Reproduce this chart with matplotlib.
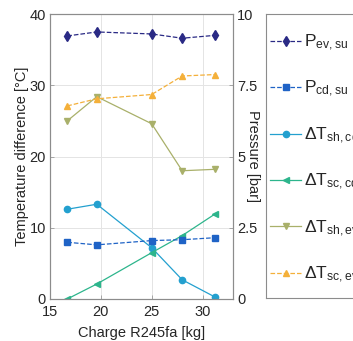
import matplotlib.pyplot as plt
from matplotlib.lines import Line2D

plt.rcParams['font.family'] = ['Liberation Sans', 'DejaVu Sans']
plt.rcParams['mathtext.default'] = 'regular'

# charge of R245fa [kg]
charge = [16.7, 19.6, 25.0, 28.0, 31.2]

# pressures [bar] (right axis)
p_ev_su = [9.23, 9.37, 9.30, 9.15, 9.25]
p_cd_su = [1.99, 1.90, 2.05, 2.08, 2.15]

# temperature differences [degC] (left axis)
dt_sh_cd = [12.6, 13.3, 7.2, 2.7, 0.3]
dt_sc_cd = [0.0, 2.1, 6.5, 8.9, 11.9]
dt_sh_ev = [25.0, 28.4, 24.6, 18.0, 18.2]
dt_sc_ev = [27.1, 28.1, 28.7, 31.3, 31.5]

labels = [r'P$_{ev,su}$', r'P$_{cd,su}$', r'$\Delta$T$_{sh,cd,su}$',
          r'$\Delta$T$_{sc,cd,ex}$', r'$\Delta$T$_{sh,ev,ex}$', r'$\Delta$T$_{sc,ev,su}$']

c_pev = '#2a2a85'
c_pcd = '#1f63c6'
c_shcd = '#23a0cf'
c_sccd = '#2db58c'
c_shev = '#a9b06a'
c_scev = '#f4b03a'

fig = plt.figure(figsize=(3.53, 3.41), dpi=100)
W, H = 353, 341
ax = fig.add_axes([50 / W, 1 - 299 / H, 183 / W, 285 / H])
ax2 = ax.twinx()

ax.plot(charge, dt_sh_cd, '-o', color=c_shcd, lw=0.9, ms=4.5)
ax.plot(charge, dt_sc_cd, '-<', color=c_sccd, lw=0.9, ms=4.5)
ax.plot(charge, dt_sh_ev, '-v', color=c_shev, lw=0.9, ms=4.5)
ax.plot(charge, dt_sc_ev, '--^', color=c_scev, lw=0.9, ms=4.5)
ax2.plot(charge, p_ev_su, '--d', color=c_pev, lw=0.9, ms=5)
ax2.plot(charge, p_cd_su, '--s', color=c_pcd, lw=0.9, ms=4)

ax.set_xlim(15, 33)
ax.set_ylim(0, 40)
ax2.set_ylim(0, 10)
ax.set_xticks([15, 20, 25, 30])
ax.set_yticks([0, 10, 20, 30, 40])
ax2.set_yticks([0, 2.5, 5, 7.5, 10])
ax2.set_yticklabels(['0', '2.5', '5', '7.5', '10'])
ax.grid(True, color='#e4e4e4', lw=0.7)
ax.set_axisbelow(True)

for a in (ax, ax2):
    a.tick_params(direction='in', length=3, width=0.6, colors='#9a9a9a',
                  labelcolor='#262626', labelsize=10.5, pad=3)
    for s in a.spines.values():
        s.set_color('#8c8c8c')
        s.set_linewidth(0.8)
ax.tick_params(axis='x', pad=4)

ax.set_xlabel('Charge R245fa [kg]', fontsize=10.5, color='#262626')
ax.set_ylabel('Temperature difference [°C]', fontsize=10.5, color='#262626')
ax.xaxis.set_label_coords(0.5, -0.095)
ax.yaxis.set_label_coords(-0.115, 0.5)
ax2.set_ylabel('Pressure [bar]', fontsize=10.5, color='#262626', rotation=-90)
ax2.yaxis.set_label_coords(1.15, 0.5)

# legend in its own framed box to the right
lax = fig.add_axes([266 / W, 1 - 298 / H, 200 / W, 284 / H])
lax.set_xticks([])
lax.set_yticks([])
for s in lax.spines.values():
    s.set_color('#8c8c8c')
    s.set_linewidth(0.8)

handles = [
    Line2D([], [], ls='--', marker='d', color=c_pev, lw=0.9, ms=5),
    Line2D([], [], ls='--', marker='s', color=c_pcd, lw=0.9, ms=4),
    Line2D([], [], ls='-', marker='o', color=c_shcd, lw=0.9, ms=4.5),
    Line2D([], [], ls='-', marker='<', color=c_sccd, lw=0.9, ms=4.5),
    Line2D([], [], ls='-', marker='v', color=c_shev, lw=0.9, ms=4.5),
    Line2D([], [], ls='--', marker='^', color=c_scev, lw=0.9, ms=4.5),
]
lax.legend(handles, labels, loc='center left', frameon=False, fontsize=12.5,
           labelspacing=1.5, handlelength=1.75, handletextpad=0.2,
           borderaxespad=0, borderpad=0.25, labelcolor='#262626',
           bbox_to_anchor=(0, 0.49))

fig.savefig('out.png', dpi=100)
